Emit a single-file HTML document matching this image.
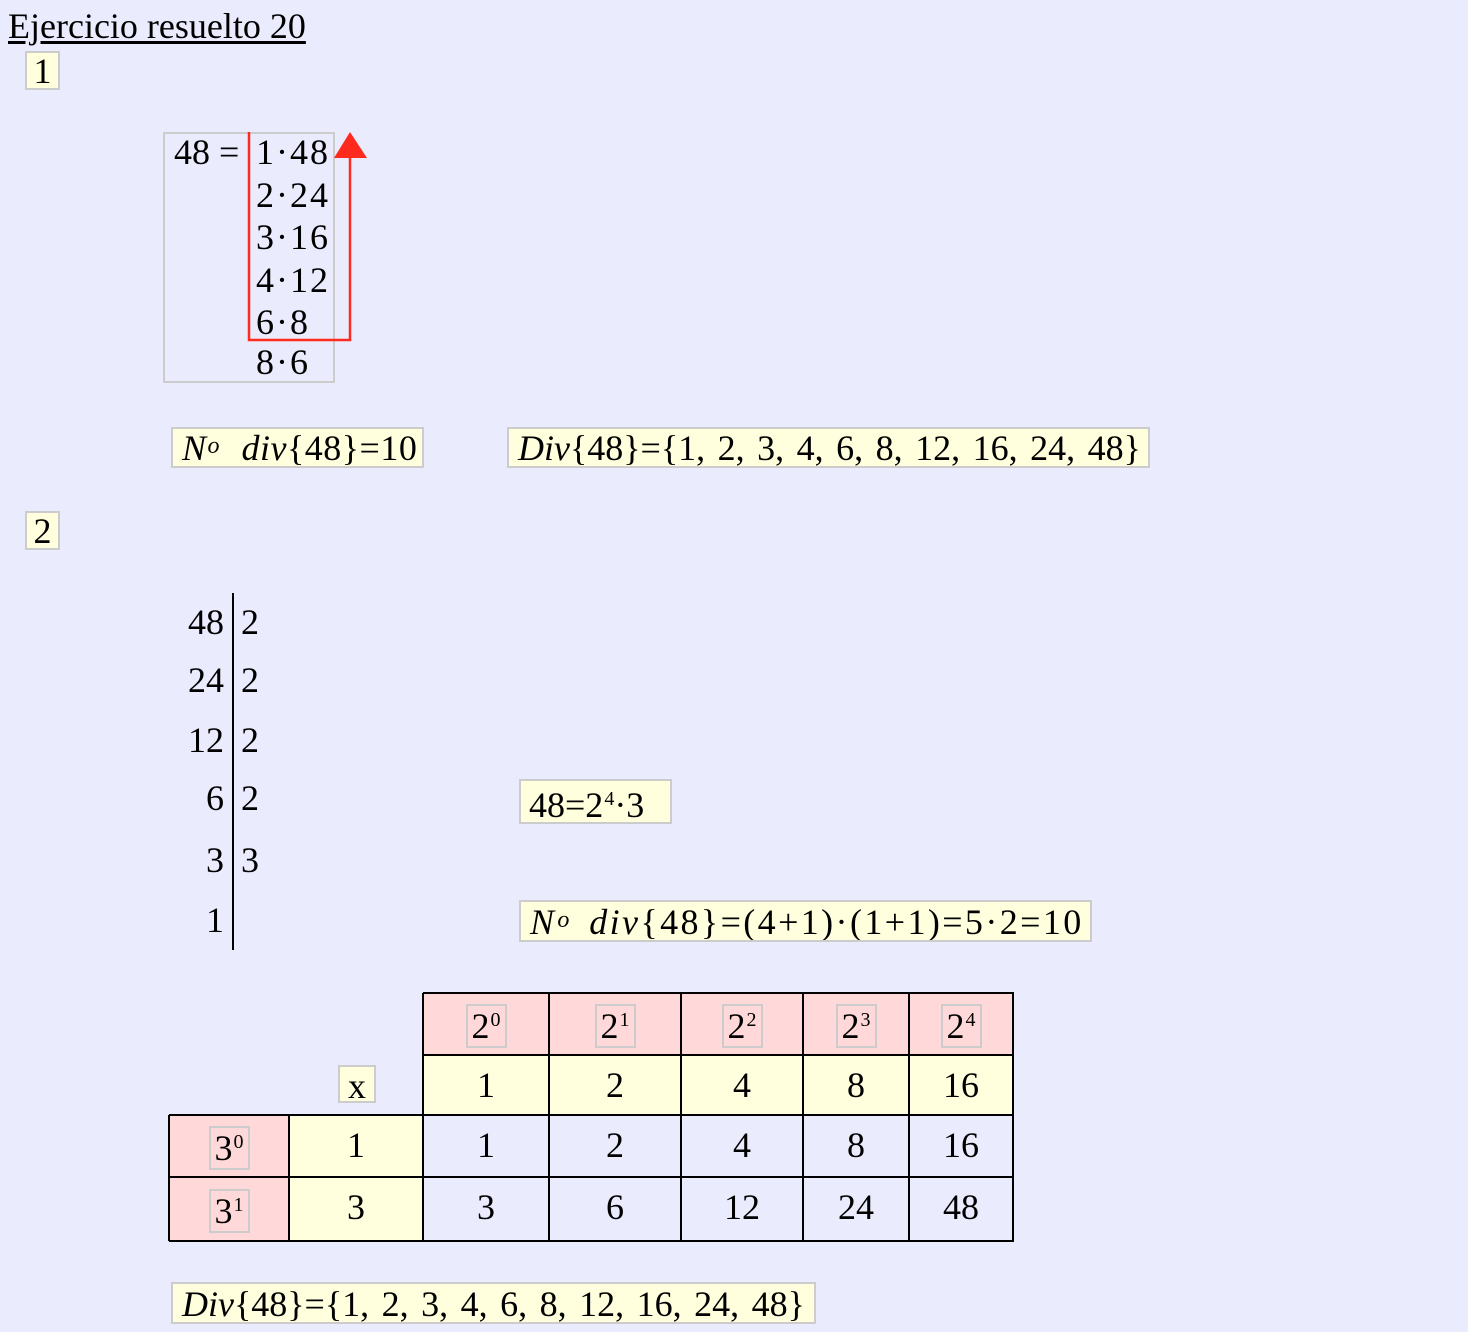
<!DOCTYPE html>
<html><head><meta charset="utf-8"><style>
html,body{margin:0;padding:0}
body{width:1468px;height:1332px;background:#EBEBFE;position:relative;overflow:hidden;font-family:"Liberation Serif",serif;color:#000}
.a{position:absolute;white-space:nowrap;font-size:36px;line-height:40px}
.y{position:absolute;background:#FFFFDD;border:2px solid #ccc;box-sizing:border-box;white-space:nowrap;font-size:36px;line-height:36px;overflow:hidden}
.i{font-style:italic}
sup{font-size:20px;vertical-align:top;position:relative;top:-6px;margin-left:1px}
.cell{position:absolute;box-sizing:border-box;text-align:center;font-size:36px;line-height:58px}
.sb{display:inline-block;border:2px solid #ccc;line-height:40px;padding:0 4px;vertical-align:middle;margin-top:-4px}
.d{letter-spacing:2px}
</style></head><body>
<div class="a" style="left:8px;top:6px;font-size:36px;text-decoration:underline;text-underline-offset:3px">Ejercicio resuelto 20</div>
<div class="y" style="left:25px;top:51px;width:35px;height:39px;text-align:center">1</div>

<div style="position:absolute;left:163px;top:132px;width:172px;height:251px;border:2px solid #ccc;box-sizing:border-box"></div>
<div class="a" style="left:174px;top:132px">48 =</div>
<div class="a d" style="left:256px;top:132px">1·48</div>
<div class="a d" style="left:256px;top:175px">2·24</div>
<div class="a d" style="left:256px;top:217px">3·16</div>
<div class="a d" style="left:256px;top:260px">4·12</div>
<div class="a d" style="left:256px;top:302px">6·8</div>
<div class="a d" style="left:256px;top:342px">8·6</div>
<svg style="position:absolute;left:0;top:0" width="1468" height="1332">
<polyline points="249,132 249,340 350,340 350,155" fill="none" stroke="#FF2A1E" stroke-width="2.5"/>
<polygon points="334,158 367,158 350,132" fill="#FF2A1E"/>
<line x1="233" y1="593" x2="233" y2="950" stroke="#000" stroke-width="2"/>
</svg>

<div class="y" style="left:171px;top:427px;width:253px;height:41px;padding-left:9px;line-height:38px;word-spacing:12px;letter-spacing:0.5px"><span class="i">N<sup style="font-size:24px;top:-2px">o</sup> div</span>{48}=10</div>
<div class="y" style="left:507px;top:427px;width:643px;height:41px;padding-left:9px;line-height:38px;word-spacing:3.5px"><span class="i">Div</span>{48}={1, 2, 3, 4, 6, 8, 12, 16, 24, 48}</div>

<div class="y" style="left:25px;top:511px;width:35px;height:39px;text-align:center">2</div>

<div class="a" style="left:160px;width:64px;text-align:right;top:602px">48</div>
<div class="a" style="left:160px;width:64px;text-align:right;top:660px">24</div>
<div class="a" style="left:160px;width:64px;text-align:right;top:720px">12</div>
<div class="a" style="left:160px;width:64px;text-align:right;top:778px">6</div>
<div class="a" style="left:160px;width:64px;text-align:right;top:840px">3</div>
<div class="a" style="left:160px;width:64px;text-align:right;top:900px">1</div>
<div class="a" style="left:241px;top:602px">2</div>
<div class="a" style="left:241px;top:660px">2</div>
<div class="a" style="left:241px;top:720px">2</div>
<div class="a" style="left:241px;top:778px">2</div>
<div class="a" style="left:241px;top:840px">3</div>

<div class="y" style="left:519px;top:779px;width:153px;height:45px;padding-left:8px;line-height:48px">48=2<sup>4</sup>·3</div>
<div class="y" style="left:519px;top:900px;width:573px;height:42px;padding-left:9px;line-height:40px;letter-spacing:2.4px;word-spacing:6px"><span class="i">N<sup style="font-size:24px;top:-2px">o</sup> div</span>{48}=(4+1)·(1+1)=5·2=10</div>

<!-- table -->
<div style="position:absolute;left:423px;top:993px;width:590px;height:62px;background:#FFD9D9"></div>
<div style="position:absolute;left:423px;top:1055px;width:590px;height:60px;background:#FFFFDD"></div>
<div style="position:absolute;left:169px;top:1115px;width:120px;height:126px;background:#FFD9D9"></div>
<div style="position:absolute;left:289px;top:1115px;width:134px;height:126px;background:#FFFFDD"></div>
<svg style="position:absolute;left:0;top:0" width="1468" height="1332">
<g stroke="#000" stroke-width="2">
<line x1="423" y1="993" x2="1014" y2="993"/>
<line x1="423" y1="1055" x2="1014" y2="1055"/>
<line x1="169" y1="1115" x2="1014" y2="1115"/>
<line x1="169" y1="1177" x2="1014" y2="1177"/>
<line x1="169" y1="1241" x2="1014" y2="1241"/>
<line x1="169" y1="1115" x2="169" y2="1241"/>
<line x1="289" y1="1115" x2="289" y2="1241"/>
<line x1="423" y1="993" x2="423" y2="1241"/>
<line x1="549" y1="993" x2="549" y2="1241"/>
<line x1="681" y1="993" x2="681" y2="1241"/>
<line x1="803" y1="993" x2="803" y2="1241"/>
<line x1="909" y1="993" x2="909" y2="1241"/>
<line x1="1013" y1="993" x2="1013" y2="1241"/>
</g></svg>
<div class="cell" style="left:423px;top:995px;width:126px"><span class="sb">2<sup>0</sup></span></div>
<div class="cell" style="left:549px;top:995px;width:132px"><span class="sb">2<sup>1</sup></span></div>
<div class="cell" style="left:681px;top:995px;width:122px"><span class="sb">2<sup>2</sup></span></div>
<div class="cell" style="left:803px;top:995px;width:106px"><span class="sb">2<sup>3</sup></span></div>
<div class="cell" style="left:909px;top:995px;width:104px"><span class="sb">2<sup>4</sup></span></div>
<div class="y" style="left:338px;top:1065px;width:38px;height:38px;text-align:center;line-height:38px">x</div>
<div class="cell" style="left:423px;top:1056px;width:126px">1</div>
<div class="cell" style="left:549px;top:1056px;width:132px">2</div>
<div class="cell" style="left:681px;top:1056px;width:122px">4</div>
<div class="cell" style="left:803px;top:1056px;width:106px">8</div>
<div class="cell" style="left:909px;top:1056px;width:104px">16</div>
<div class="cell" style="left:169px;top:1117px;width:120px"><span class="sb">3<sup>0</sup></span></div>
<div class="cell" style="left:169px;top:1180px;width:120px"><span class="sb">3<sup>1</sup></span></div>
<div class="cell" style="left:289px;top:1116px;width:134px">1</div>
<div class="cell" style="left:423px;top:1116px;width:126px">1</div>
<div class="cell" style="left:549px;top:1116px;width:132px">2</div>
<div class="cell" style="left:681px;top:1116px;width:122px">4</div>
<div class="cell" style="left:803px;top:1116px;width:106px">8</div>
<div class="cell" style="left:909px;top:1116px;width:104px">16</div>
<div class="cell" style="left:289px;top:1178px;width:134px">3</div>
<div class="cell" style="left:423px;top:1178px;width:126px">3</div>
<div class="cell" style="left:549px;top:1178px;width:132px">6</div>
<div class="cell" style="left:681px;top:1178px;width:122px">12</div>
<div class="cell" style="left:803px;top:1178px;width:106px">24</div>
<div class="cell" style="left:909px;top:1178px;width:104px">48</div>

<div class="y" style="left:171px;top:1282px;width:645px;height:42px;padding-left:9px;line-height:40px;word-spacing:3.5px"><span class="i">Div</span>{48}={1, 2, 3, 4, 6, 8, 12, 16, 24, 48}</div>
</body></html>
